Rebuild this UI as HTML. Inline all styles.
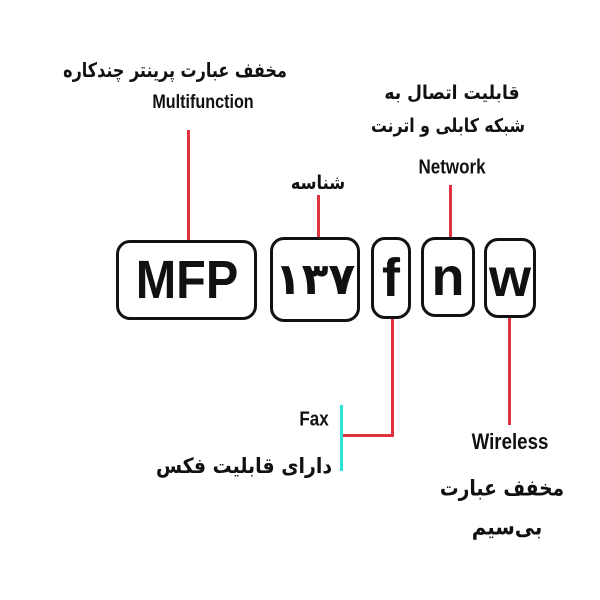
<!DOCTYPE html>
<html><head><meta charset="utf-8"><style>
body{margin:0;width:600px;height:600px;background:#fff;position:relative;overflow:hidden;font-family:"Liberation Sans","Noto Sans CJK SC",sans-serif;font-weight:bold;color:#111}
.t{position:absolute;white-space:nowrap;transform:translate(-50%,-50%)}
.fa{font-family:"DejaVu Sans","Noto Sans CJK SC",sans-serif;font-weight:bold;direction:rtl}
.box{position:absolute;border:3px solid #111;border-radius:14px;box-sizing:border-box;display:flex;align-items:center;justify-content:center;font-size:54px;font-weight:bold}
.l{position:absolute;background:#e0323e}
</style></head><body>
<div class="l" style="left:187px;top:130px;width:3px;height:110px"></div>
<div class="l" style="left:317px;top:195px;width:3px;height:43px"></div>
<div class="l" style="left:449px;top:185px;width:3px;height:52px"></div>
<div class="l" style="left:391px;top:318px;width:3px;height:119px"></div>
<div class="l" style="left:342px;top:434px;width:52px;height:3px"></div>
<div class="l" style="left:508px;top:318px;width:3px;height:107px"></div>
<div style="position:absolute;left:340px;top:405px;width:3px;height:66px;background:#2de0d8"></div>

<div class="box" style="left:116px;top:240px;width:141px;height:80px"><span style="display:inline-block;transform:scaleX(0.9)">MFP</span></div>
<div class="box fa" style="left:270px;top:237px;width:90px;height:85px;font-size:44px">۱۳۷</div>
<div class="box" style="left:371px;top:237px;width:40px;height:82px">f</div>
<div class="box" style="left:421px;top:237px;width:54px;height:80px">n</div>
<div class="box" style="left:484px;top:238px;width:52px;height:80px">w</div>

<div class="t fa" style="left:175px;top:70px;font-size:20px;transform:translate(-50%,-50%) scaleX(0.8)">مخفف عبارت پرینتر چندکاره</div>
<div class="t" style="left:203px;top:103px;font-size:19px;transform:translate(-50%,-50%) scaleX(0.85)">Multifunction</div>
<div class="t fa" style="left:318px;top:183px;font-size:19px;transform:translate(-50%,-50%) scaleX(0.85)">شناسه</div>
<div class="t fa" style="left:452px;top:93px;font-size:19px;transform:translate(-50%,-50%) scaleX(0.9)">قابلیت اتصال به</div>
<div class="t fa" style="left:448px;top:126px;font-size:19px;transform:translate(-50%,-50%) scaleX(0.83)">شبکه کابلی و اترنت</div>
<div class="t" style="left:452px;top:168px;font-size:20px;transform:translate(-50%,-50%) scaleX(0.85)">Network</div>
<div class="t" style="left:314px;top:420px;font-size:20px;transform:translate(-50%,-50%) scaleX(0.85)">Fax</div>
<div class="t fa" style="left:244px;top:466px;font-size:21px;transform:translate(-50%,-50%) scaleX(0.9)">دارای قابلیت فکس</div>
<div class="t" style="left:510px;top:442px;font-size:22px;transform:translate(-50%,-50%) scaleX(0.85)">Wireless</div>
<div class="t fa" style="left:502px;top:489px;font-size:22px;transform:translate(-50%,-50%) scaleX(0.85)">مخفف عبارت</div>
<div class="t fa" style="left:507px;top:528px;font-size:22px;transform:translate(-50%,-50%) scaleX(0.9)">بی‌سیم</div>
</body></html>
